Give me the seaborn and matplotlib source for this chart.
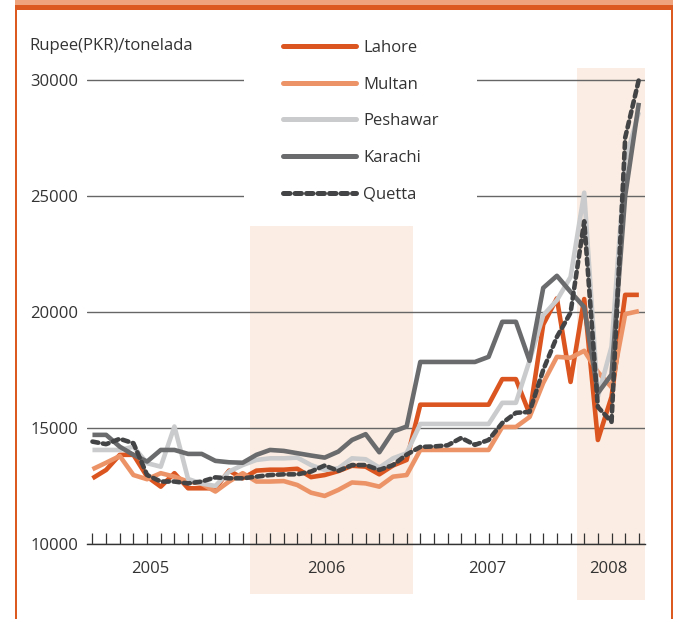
import numpy as np
import pandas as pd
import seaborn as sns
import matplotlib.pyplot as plt
import matplotlib.patches as mpatches

# monthly index 0..40 (Jan 2005 .. May 2008)
months = list(range(41))

lahore = [12830, 13190, 13840, 13840, 12900, 12470, 13050, 12400, 12400, 12400,
          13160, 12830, 13160, 13200, 13200, 13240, 12880, 12970, 13140, 13370,
          13330, 13000, 13380, 13620, 16000, 16000, 16000, 16000, 16000, 16000,
          17100, 17100, 15600, 19450, 20580, 16980, 20550, 14480, 16340, 20730, 20730]
multan = [13220, 13500, 13790, 12970, 12790, 13050, 12900, 12690, 12590, 12260,
          12690, 13050, 12690, 12690, 12710, 12540, 12210, 12070, 12330, 12650,
          12610, 12470, 12900, 12970, 14050, 14050, 14050, 14050, 14050, 14050,
          15040, 15040, 15470, 16940, 18060, 18020, 18320, 17410, 16750, 19900, 20030]
peshawar = [14050, 14050, 14050, 14190, 13480, 13330, 15060, 12800, 12600, 12500,
            13120, 13400, 13620, 13690, 13690, 13720, 13400, 13190, 13260, 13690,
            13650, 13290, 13690, 13910, 15170, 15170, 15170, 15170, 15170, 15170,
            16080, 16080, 17900, 19850, 20500, 21500, 25130, 16340, 18500, 26500, 28600]
karachi = [14700, 14700, 14190, 13840, 13550, 14050, 14050, 13880, 13880, 13580,
           13520, 13500, 13840, 14050, 14010, 13910, 13810, 13720, 13980, 14480,
           14730, 13950, 14840, 15060, 17840, 17840, 17840, 17840, 17840, 18060,
           19570, 19570, 17890, 21030, 21550, 20860, 20200, 16500, 17300, 25000, 29000]
quetta = [14410, 14300, 14530, 14340, 12970, 12690, 12690, 12610, 12690, 12870,
          12830, 12830, 12900, 12970, 13000, 13000, 13120, 13380, 13150, 13400,
          13400, 13190, 13400, 13850, 14180, 14200, 14250, 14570, 14270, 14480,
          15210, 15650, 15690, 17500, 18920, 19960, 23900, 15900, 15260, 27500, 30000]

series = ['Lahore', 'Multan', 'Peshawar', 'Karachi', 'Quetta']
values = [lahore, multan, peshawar, karachi, quetta]
colors = ['#DB5520', '#EC9468', '#CACBCC', '#6A6B6D', '#434445']

years = ['2005', '2006', '2007', '2008']
year_pos = [4.2, 17.1, 28.9, 37.8]
yticks = [10000, 15000, 20000, 25000, 30000]

sns.set_style('white')
plt.rcParams['font.family'] = ['Open Sans', 'DejaVu Sans']
txt = '#333333'

W, H = 677, 619
fig = plt.figure(figsize=(W / 100, H / 100), dpi=100)
ax = fig.add_axes([87 / W, (H - 544) / H, 558 / W, 476 / H])

# shaded years
ax.axvspan(11.5, 23.5, ymin=-0.105, ymax=(23700 - 10000) / 20500,
           color='#FBEDE3', lw=0, zorder=0.2, clip_on=False)
ax.axvspan(35.5, 40.45, ymin=-0.118, ymax=1.0,
           color='#FBEDE3', lw=0, zorder=0.2, clip_on=False)

for name, vals, c in zip(series, values, colors):
    if name == 'Quetta':
        sns.lineplot(x=months, y=vals, ax=ax, color=c, lw=3.3, label=name,
                     linestyle=(0, (1.3, 1.0)), dash_capstyle='round', zorder=3)
    else:
        sns.lineplot(x=months, y=vals, ax=ax, color=c, lw=3.3, label=name,
                     solid_capstyle='butt', zorder=3)

ax.set_xlim(-0.4, 40.45)
ax.set_ylim(10000, 30500)
ax.set_yticks(yticks)
ax.set_yticklabels([str(v) for v in yticks])
ax.set_xticks(months)
ax.set_xticklabels([])
ax.set_xlabel('')
ax.set_ylabel('')
ax.set_axisbelow(True)
ax.yaxis.grid(True, color='#666666', lw=1.0)
ax.xaxis.grid(False)
for s in ['top', 'right', 'left']:
    ax.spines[s].set_visible(False)
ax.spines['bottom'].set_color(txt)
ax.spines['bottom'].set_linewidth(1.0)
ax.tick_params(axis='y', length=0, pad=6.5, labelsize=12, labelcolor=txt)
ax.tick_params(axis='x', direction='in', length=8, width=0.9, color=txt,
               bottom=True)

for lab, p in zip(years, year_pos):
    ax.text(p, -0.053, lab, transform=ax.get_xaxis_transform(), ha='center',
            va='center', fontsize=12, color=txt)

# white box behind legend breaks the gridlines
ax.add_patch(mpatches.Rectangle((244 / W, 1 - 212 / H), (477 - 244) / W, 190 / H,
                                transform=fig.transFigure, facecolor='white',
                                edgecolor='none', zorder=1, clip_on=False))

leg = ax.legend(loc='upper left', bbox_to_anchor=(283 / W, 1 - 40 / H),
                bbox_transform=fig.transFigure, frameon=False, fontsize=12,
                handlelength=4.4, handletextpad=0.4, labelspacing=1.24,
                borderpad=0, borderaxespad=0)
for t in leg.get_texts():
    t.set_color(txt)
for h in leg.get_lines():
    h.set_linewidth(3.6)
    h.set_solid_capstyle('round')

fig.text(29 / W, 1 - 46 / H, 'Rupee(PKR)/tonelada', ha='left', va='center',
         fontsize=12, color=txt)

# orange frame
def fig_rect(x0, y0, x1, y1, c):
    fig.patches.append(mpatches.Rectangle((x0 / W, 1 - y1 / H), (x1 - x0) / W,
                                          (y1 - y0) / H, transform=fig.transFigure,
                                          facecolor=c, edgecolor='none', zorder=5))

fig_rect(15, 0, 673, 4.7, '#EFA47D')
fig_rect(15, 4.7, 673, 10, '#DC5A20')
fig_rect(14.5, 4.7, 16.5, H, '#DC5A20')
fig_rect(670.7, 4.7, 672.7, H, '#DC5A20')

plt.savefig('out.png', dpi=100)
